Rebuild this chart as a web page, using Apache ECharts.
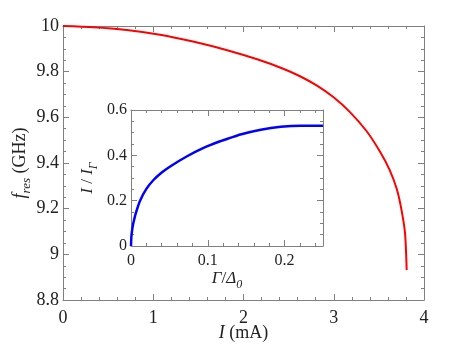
<!DOCTYPE html>
<html>
<head>
<meta charset="utf-8">
<script src="https://cdn.jsdelivr.net/npm/echarts@6/dist/echarts.min.js"></script>
<style>html,body{margin:0;padding:0;background:#fff}#c{width:469px;height:352px}</style>
</head>
<body>
<div id="c"></div>
<script>
// Main curve: resonance frequency vs current
const currentMA = [0, 0.336, 0.706, 1.075, 1.44, 1.81, 2.16, 2.44, 2.626, 2.81, 2.995, 3.18, 3.365, 3.51, 3.62, 3.70, 3.75, 3.79, 3.808];
const fresGHz   = [10, 9.995, 9.983, 9.962, 9.932, 9.895, 9.853, 9.813, 9.780, 9.740, 9.689, 9.623, 9.539, 9.451, 9.369, 9.284, 9.196, 9.092, 8.931];
// Inset curve: I/I_Gamma vs Gamma/Delta0
const gammaRatio = [0, 0.0005, 0.001, 0.002, 0.003, 0.006, 0.0118, 0.02, 0.029, 0.04, 0.051, 0.073, 0.0945, 0.116, 0.129, 0.1425, 0.169, 0.195, 0.221, 0.25];
const currentRatio = [0, 0.041, 0.058, 0.082, 0.10, 0.142, 0.20, 0.252, 0.29, 0.324, 0.351, 0.396, 0.433, 0.462, 0.477, 0.492, 0.513, 0.526, 0.531, 0.531];

const FONT = '"Liberation Serif", "Times New Roman", serif';
const TXT = '#222';
const LINE = '#808080';

function pairs(xs, ys){ return xs.map((x,i)=>[x, ys[i]]); }

function frameAxis(o){
  return Object.assign({
    type:'value',
    nameMoveOverlap:false,
    axisLine:{show:true, onZero:false, lineStyle:{color:LINE, width:1}},
    axisTick:{show:true, inside:true, length:6, lineStyle:{color:LINE}},
    minorTick:{show:true, length:3, lineStyle:{color:LINE}},
    splitLine:{show:false},
    axisLabel:{show:false}
  }, o);
}
const labelStyle = (size, margin) => ({show:true, color:TXT, fontFamily:FONT, fontSize:size, margin:margin});

const chart = echarts.init(document.getElementById('c'));
chart.setOption({
  animation:false,
  backgroundColor:'#fff',
  grid:[
    {left:63, top:26, width:361, height:274, containLabel:false, outerBoundsMode:'none'},
    {left:131, top:110, width:192, height:136, containLabel:false, outerBoundsMode:'none', show:true, backgroundColor:'#fff', borderWidth:0, z:5}
  ],
  xAxis:[
    frameAxis({gridIndex:0, position:'bottom', min:0, max:4, interval:1,
      minorTick:{show:true, splitNumber:5, length:3, lineStyle:{color:LINE}},
      axisLabel:labelStyle(18, 9),
      name:'{i|I} (mA)', nameLocation:'middle', nameGap:24,
      nameTextStyle:{color:TXT, fontFamily:FONT, fontSize:18, rich:{i:{fontStyle:'italic', fontFamily:FONT, fontSize:18, color:TXT}}}}),
    frameAxis({gridIndex:0, position:'top', min:0, max:4, interval:1,
      minorTick:{show:true, splitNumber:5, length:3, lineStyle:{color:LINE}}}),
    frameAxis({gridIndex:1, position:'bottom', min:0, max:0.25, interval:0.1, z:6,
      minorTick:{show:true, splitNumber:5, length:3, lineStyle:{color:LINE}},
      axisLabel:Object.assign(labelStyle(16, 7), {showMaxLabel:false}),
      name:'{i|Γ}/{i|Δ}{s|0}', nameLocation:'middle', nameGap:21,
      nameTextStyle:{color:TXT, fontFamily:FONT, fontSize:17, lineHeight:24, rich:{
        i:{fontStyle:'italic', fontFamily:FONT, fontSize:17, color:TXT, verticalAlign:'middle', lineHeight:24},
        s:{fontStyle:'italic', fontFamily:FONT, fontSize:12, color:TXT, verticalAlign:'bottom', lineHeight:14}}}}),
    frameAxis({gridIndex:1, position:'top', min:0, max:0.25, interval:0.1, z:6,
      minorTick:{show:true, splitNumber:5, length:3, lineStyle:{color:LINE}}})
  ],
  yAxis:[
    frameAxis({gridIndex:0, position:'left', min:8.8, max:10, interval:0.2,
      minorTick:{show:true, splitNumber:4, length:3, lineStyle:{color:LINE}},
      axisLabel:labelStyle(18, 4),
      name:'{i|f}{s|res} (GHz)', nameLocation:'middle', nameGap:30, nameRotate:90,
      nameTextStyle:{color:TXT, fontFamily:FONT, fontSize:18, lineHeight:26, rich:{
        i:{fontStyle:'italic', fontFamily:FONT, fontSize:18, color:TXT, verticalAlign:'middle', lineHeight:26},
        s:{fontStyle:'italic', fontFamily:FONT, fontSize:13, color:TXT, verticalAlign:'bottom', lineHeight:15}}}}),
    frameAxis({gridIndex:0, position:'right', min:8.8, max:10, interval:0.2,
      minorTick:{show:true, splitNumber:4, length:3, lineStyle:{color:LINE}}}),
    frameAxis({gridIndex:1, position:'left', min:0, max:0.6, interval:0.2, z:6,
      minorTick:{show:true, splitNumber:4, length:3, lineStyle:{color:LINE}},
      axisLabel:labelStyle(16, 4),
      name:'{i|I} / {i|I}{s|Γ}', nameLocation:'middle', nameGap:31, nameRotate:90,
      nameTextStyle:{color:TXT, fontFamily:FONT, fontSize:17, lineHeight:24, rich:{
        i:{fontStyle:'italic', fontFamily:FONT, fontSize:17, color:TXT, verticalAlign:'middle', lineHeight:24},
        s:{fontStyle:'italic', fontFamily:FONT, fontSize:12, color:TXT, verticalAlign:'bottom', lineHeight:14}}}}),
    frameAxis({gridIndex:1, position:'right', min:0, max:0.6, interval:0.2, z:6,
      minorTick:{show:true, splitNumber:4, length:3, lineStyle:{color:LINE}}})
  ],
  series:[
    {type:'line', xAxisIndex:0, yAxisIndex:0, data:pairs(currentMA, fresGHz),
      showSymbol:false, smooth:0.25, lineStyle:{color:'#ff0000', width:2}, z:2},
    {type:'line', xAxisIndex:2, yAxisIndex:2, data:pairs(gammaRatio, currentRatio),
      showSymbol:false, smooth:0.25, lineStyle:{color:'#0000ff', width:2.5}, z:7}
  ]
});
</script>
</body>
</html>
